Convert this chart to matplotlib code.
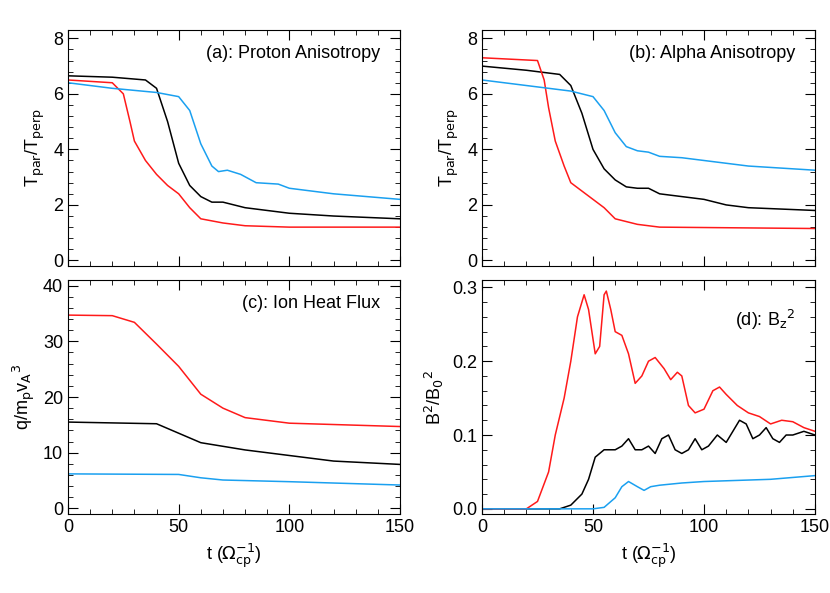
import numpy as np
import matplotlib
matplotlib.use("Agg")
import matplotlib.pyplot as plt
from matplotlib.ticker import AutoMinorLocator

plt.rcParams["font.family"] = "Liberation Sans"
plt.rcParams["font.size"] = 13

RED, BLK, BLU = "#ff1a1a", "black", "#1aa0f0"

# (a) proton anisotropy
pa_black_t = [0, 20, 35, 40, 45, 50, 55, 60, 65, 70, 80, 90, 100, 120, 150]
pa_black = [6.65, 6.6, 6.5, 6.2, 5.0, 3.5, 2.7, 2.3, 2.1, 2.1, 1.9, 1.8, 1.7, 1.6, 1.5]
pa_red_t = [0, 20, 25, 28, 30, 35, 40, 45, 50, 55, 60, 70, 80, 100, 150]
pa_red = [6.5, 6.4, 6.0, 5.0, 4.3, 3.6, 3.1, 2.7, 2.4, 1.9, 1.5, 1.35, 1.25, 1.2, 1.2]
pa_blue_t = [0, 20, 40, 50, 55, 60, 65, 68, 72, 78, 85, 95, 100, 120, 150]
pa_blue = [6.4, 6.2, 6.05, 5.9, 5.4, 4.2, 3.4, 3.2, 3.25, 3.1, 2.8, 2.75, 2.6, 2.4, 2.2]

# (b) alpha anisotropy
aa_black_t = [0, 20, 35, 40, 45, 50, 55, 60, 65, 70, 75, 80, 90, 100, 110, 120, 150]
aa_black = [7.0, 6.85, 6.7, 6.3, 5.3, 4.0, 3.3, 2.9, 2.65, 2.6, 2.6, 2.4, 2.3, 2.2, 2.0, 1.9, 1.8]
aa_red_t = [0, 25, 28, 30, 33, 37, 40, 45, 50, 55, 60, 70, 80, 150]
aa_red = [7.3, 7.2, 6.5, 5.5, 4.3, 3.4, 2.8, 2.5, 2.2, 1.9, 1.5, 1.3, 1.2, 1.15]
aa_blue_t = [0, 20, 40, 50, 55, 60, 65, 70, 75, 80, 90, 100, 120, 150]
aa_blue = [6.5, 6.3, 6.1, 5.9, 5.4, 4.6, 4.1, 3.95, 3.9, 3.75, 3.7, 3.6, 3.4, 3.25]

# (c) ion heat flux
hf_red_t = [0, 20, 30, 40, 50, 55, 60, 70, 80, 100, 150]
hf_red = [34.7, 34.6, 33.4, 29.5, 25.5, 23, 20.5, 18, 16.3, 15.3, 14.7]
hf_black_t = [0, 40, 50, 60, 80, 100, 120, 150]
hf_black = [15.5, 15.2, 13.5, 11.8, 10.5, 9.5, 8.5, 7.9]
hf_blue_t = [0, 50, 60, 70, 100, 150]
hf_blue = [6.2, 6.1, 5.5, 5.1, 4.8, 4.2]

# (d) Bz^2
bz_red_t = [0, 20, 25, 30, 33, 37, 40, 43, 46, 48, 51, 53, 55, 56, 58, 60, 63, 66, 69, 72, 75, 78,
            82, 85, 88, 90, 93, 96, 100, 104, 107, 110, 115, 120, 125, 130, 135, 140, 145, 150]
bz_red = [0, 0, 0.01, 0.05, 0.1, 0.15, 0.2, 0.26, 0.29, 0.27, 0.21, 0.22, 0.29, 0.295, 0.27, 0.24,
          0.235, 0.21, 0.17, 0.18, 0.2, 0.205, 0.19, 0.175, 0.185, 0.18, 0.14, 0.13, 0.135, 0.16,
          0.165, 0.155, 0.14, 0.13, 0.125, 0.115, 0.12, 0.118, 0.11, 0.105]
bz_black_t = [0, 35, 40, 45, 48, 51, 55, 60, 63, 66, 69, 72, 75, 78, 81, 84, 87, 90, 93, 96, 99,
              102, 106, 110, 113, 116, 119, 122, 125, 128, 131, 134, 137, 140, 145, 150]
bz_black = [0, 0, 0.005, 0.02, 0.04, 0.07, 0.08, 0.08, 0.085, 0.095, 0.08, 0.08, 0.085, 0.075,
            0.095, 0.1, 0.08, 0.075, 0.08, 0.095, 0.08, 0.085, 0.1, 0.09, 0.105, 0.12, 0.115,
            0.095, 0.1, 0.11, 0.095, 0.09, 0.1, 0.1, 0.105, 0.1]
bz_blue_t = [0, 50, 55, 60, 63, 66, 70, 73, 76, 80, 90, 100, 110, 130, 150]
bz_blue = [0, 0, 0.002, 0.015, 0.03, 0.037, 0.03, 0.025, 0.03, 0.032, 0.035, 0.037, 0.038, 0.04, 0.045]

fig = plt.figure(figsize=(8.3, 5.93), dpi=100)
W, H = 830, 593
def ax_at(x0, y0, x1, y1):
    return fig.add_axes([x0 / W, 1 - y1 / H, (x1 - x0) / W, (y1 - y0) / H])

axa = ax_at(68, 30, 400, 266)
axb = ax_at(482, 30, 815, 266)
axc = ax_at(68, 280, 400, 514)
axd = ax_at(482, 280, 815, 514)

for ax, data in [
    (axa, [(pa_black_t, pa_black, BLK), (pa_red_t, pa_red, RED), (pa_blue_t, pa_blue, BLU)]),
    (axb, [(aa_black_t, aa_black, BLK), (aa_red_t, aa_red, RED), (aa_blue_t, aa_blue, BLU)]),
    (axc, [(hf_black_t, hf_black, BLK), (hf_red_t, hf_red, RED), (hf_blue_t, hf_blue, BLU)]),
    (axd, [(bz_black_t, bz_black, BLK), (bz_red_t, bz_red, RED), (bz_blue_t, bz_blue, BLU)]),
]:
    for t, y, c in data:
        ax.plot(t, y, color=c, lw=1.1)
    ax.set_xlim(0, 150)
    ax.set_xticks([0, 50, 100, 150])
    ax.xaxis.set_minor_locator(AutoMinorLocator(5))
    ax.yaxis.set_minor_locator(AutoMinorLocator(5))
    ax.tick_params(which="both", direction="in", top=True, right=True)
    ax.tick_params(which="major", length=7)
    ax.tick_params(which="minor", length=3.5)

for ax in (axa, axb):
    ax.set_ylim(-0.2, 8.3)
    ax.set_yticks([0, 2, 4, 6, 8])
    ax.set_xticklabels([])
    ax.set_ylabel(r"T$_{\rm par}$/T$_{\rm perp}$")
axc.set_ylim(-1, 41)
axc.set_yticks([0, 10, 20, 30, 40])
axc.set_ylabel(r"q/m$_{\rm p}$v$_{\rm A}$$^3$")
axd.set_ylim(-0.007, 0.31)
axd.set_yticks([0.0, 0.1, 0.2, 0.3])
axd.set_yticklabels(["0.0", "0.1", "0.2", "0.3"])
axd.set_ylabel(r"B$^2$/B$_0$$^2$")
for ax in (axc, axd):
    ax.set_xlabel(r"t ($\Omega_{\rm cp}^{-1}$)")

axa.text(0.94, 0.9, "(a): Proton Anisotropy", transform=axa.transAxes, ha="right", va="center")
axb.text(0.94, 0.9, "(b): Alpha Anisotropy", transform=axb.transAxes, ha="right", va="center")
axc.text(0.94, 0.9, "(c): Ion Heat Flux", transform=axc.transAxes, ha="right", va="center")
axd.text(0.94, 0.83, r"(d): B$_{\rm z}$$^2$", transform=axd.transAxes, ha="right", va="center")

fig.savefig("out.png", dpi=100)
